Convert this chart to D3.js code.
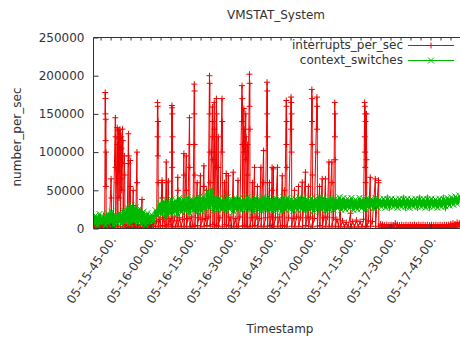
<!DOCTYPE html>
<html lang="en">
<head>
<meta charset="UTF-8">
<title>VMSTAT_System</title>
<style>
    body { margin: 0; background: #fff; overflow: hidden; }
    svg text { font-family: "DejaVu Sans", sans-serif; fill: #333; }
</style>
</head>
<body>
<div id="container"></div>
<script src="https://cdn.jsdelivr.net/npm/d3@7/dist/d3.min.js"></script>
<script>
// time is minutes after 15:00 on day 05
var interrupts = [
    [38.6,2000],[39.0,5000],[39.3,1000],[39.7,4500],[40.0,1500],[40.4,5000],[40.7,1200],[41.0,4000],[41.4,1000],[41.8,5000],[42.1,1000],[42.5,4500],[42.8,1500],
    [43.0,178000],[43.05,150000],[43.1,170000],[43.15,115000],[43.2,143000],[43.25,55000],[43.3,100000],[43.35,2000],
    [43.6,5000],[43.9,1500],[44.2,4500],[44.5,1000],
    [45.2,65000],[45.3,40000],[45.4,1500],[45.7,5000],[46.0,1000],
    [46.8,145000],[46.85,80000],[46.9,120000],[46.95,2000],
    [47.5,132000],[47.55,60000],[47.6,110000],[47.7,3000],
    [48.0,128000],[48.05,75000],[48.1,118000],[48.2,40000],
    [48.5,130000],[48.55,90000],[48.6,125000],[48.7,2000],
    [49.0,120000],[49.05,65000],[49.1,105000],[49.2,50000],
    [49.5,130000],[49.55,85000],[49.6,115000],[49.7,2000],
    [50.2,95000],[50.3,70000],[50.4,2500],[50.8,5000],[51.2,1000],
    [51.7,124000],[51.75,85000],[51.8,95000],[51.85,2000],
    [52.4,89000],[52.45,55000],[52.5,7000],[52.6,2000],[53.0,5000],
    [53.5,50000],[53.55,30000],[53.6,1500],[54.0,4500],[54.4,1000],
    [54.9,100000],[54.95,60000],[55.0,2000],[55.4,5000],[55.8,1000],[56.2,4500],
    [56.8,38000],[56.9,1500],
    [57.3,5000],[57.6,1500],[58.0,4500],[58.3,1000],[58.7,5000],[59.0,1500],[59.4,4000],[59.7,1000],[60.0,5000],[60.4,2000],[60.8,8000],[61.1,3000],[61.5,10000],[61.8,3000],
    [62.3,9000],[62.6,165000],[62.65,120000],[62.7,160000],[62.75,95000],[62.8,140000],[62.85,60000],[62.9,2000],
    [63.3,12000],[63.7,3000],
    [64.3,63000],[64.35,40000],[64.4,60000],[64.5,4000],
    [65.0,14000],[65.5,2000],
    [65.9,87000],[66.0,30000],[66.05,60000],[66.1,3000],
    [66.7,62000],[66.8,5000],[67.3,13000],[67.8,2000],
    [68.0,161000],[68.05,100000],[68.1,158000],[68.15,80000],[68.2,150000],[68.25,120000],[68.3,3000],
    [68.9,15000],[69.4,2000],[69.9,10000],
    [70.2,67000],[70.25,50000],[70.3,3000],
    [70.9,14000],[71.5,2000],[72.0,12000],
    [72.5,98000],[72.55,70000],[72.6,3000],
    [73.4,95000],[73.45,50000],[73.5,2000],[74.0,13000],
    [74.6,145000],[74.65,110000],[74.7,80000],[74.75,3000],
    [75.3,15000],[75.9,2000],
    [76.4,189000],[76.45,150000],[76.5,180000],[76.55,110000],[76.6,70000],[76.65,3000],
    [77.5,60000],[77.6,4000],
    [78.1,14000],[78.7,69000],[78.75,40000],[78.8,2000],[79.4,12000],
    [80.0,82000],[80.05,55000],[80.1,3000],
    [80.6,13000],[81.0,50000],[81.1,4000],[81.6,15000],
    [82.1,200000],[82.15,150000],[82.2,190000],[82.25,100000],[82.3,60000],[82.35,3000],
    [83.2,159000],[83.25,120000],[83.3,140000],[83.35,90000],[83.4,5000],
    [83.9,165000],[83.95,100000],[84.0,130000],[84.05,2000],
    [84.7,170000],[84.75,80000],[84.8,150000],[84.85,4000],
    [85.4,120000],[85.45,80000],[85.5,3000],[86.0,14000],
    [86.8,170000],[86.85,100000],[86.9,140000],[86.95,2000],
    [87.7,60000],[87.8,5000],[88.4,72000],[88.5,3000],[89.2,69000],[89.3,4000],
    [89.8,15000],[90.4,2000],
    [91.0,73700],[91.1,40000],[91.2,3000],[91.8,13000],[92.3,2000],
    [92.8,63000],[92.9,3000],[93.5,15000],
    [94.3,187000],[94.35,140000],[94.4,170000],[94.45,110000],[94.5,3000],
    [95.0,157000],[95.05,100000],[95.1,130000],[95.15,4000],
    [95.7,150000],[95.75,90000],[95.8,120000],[95.85,2000],
    [96.3,110000],[96.35,70000],[96.4,3000],
    [97.1,202000],[97.15,160000],[97.2,190000],[97.25,130000],[97.3,2000],
    [97.8,14000],[98.2,60000],[98.3,3000],[99.0,80000],[99.1,4000],
    [99.6,15000],[100.1,55000],[100.2,2000],
    [100.8,13000],[101.4,80000],[101.5,3000],
    [102.4,102000],[102.45,60000],[102.5,2000],
    [103.1,14000],[103.7,191500],[103.75,150000],[103.8,180000],[103.85,120000],[103.9,3000],
    [104.6,60000],[104.7,4000],
    [105.2,15000],[105.6,80000],[105.65,50000],[105.7,3000],
    [106.1,78000],[106.2,2000],[106.8,14000],
    [107.6,80000],[107.7,3000],[108.3,15000],[108.8,2000],
    [109.4,69000],[109.5,4000],[110.2,50000],[110.3,3000],
    [110.9,167500],[110.95,110000],[111.0,160000],[111.05,140000],[111.1,80000],[111.15,2000],
    [111.8,14000],
    [112.7,172000],[112.75,130000],[112.8,165000],[112.85,100000],[112.9,150000],[112.95,3000],
    [113.5,13000],[114.0,50000],[114.1,2000],[114.8,15000],
    [115.5,55000],[115.6,3000],
    [116.2,14000],[116.9,60600],[117.0,2000],
    [118.1,73700],[118.2,4000],[118.7,14000],
    [119.2,55000],[119.3,3000],[119.9,15000],
    [120.5,182000],[120.55,140000],[120.6,170000],[120.65,110000],[120.7,70000],[120.75,2000],
    [121.4,13000],
    [122.4,172000],[122.45,130000],[122.5,160000],[122.55,100000],[122.6,3000],
    [123.4,55000],[123.5,4000],[124.4,65000],[124.5,2000],[125.0,14000],
    [125.6,65000],[125.7,3000],[126.3,15000],
    [126.9,87000],[127.0,2000],
    [128.0,87000],[128.05,60000],[128.1,3000],[128.6,14000],
    [129.1,165000],[129.15,120000],[129.2,150000],[129.25,90000],[129.3,2000],
    [129.9,12000],[130.5,3000],[131.2,30000],[131.3,2000],
    [132.0,10000],[132.7,2000],[133.4,8000],[134.1,2000],
    [135.0,20000],[135.1,2000],
    [135.8,9000],[136.5,2000],[137.2,11000],[137.9,2000],[138.6,9000],[139.3,2000],[139.9,12000],
    [140.3,165000],[140.35,120000],[140.4,160000],[140.45,100000],[140.5,150000],[140.55,80000],[140.6,140000],[140.65,60000],[140.7,3000],
    [141.0,150000],[141.05,90000],[141.1,2000],[141.7,10000],
    [142.4,67000],[142.5,3000],[143.2,9000],
    [144.3,65000],[144.4,3000],
    [145.5,63000],[145.55,60000],[145.6,2000],[146.3,6000],
    [146.7,1000],[147.0,5000],[147.4,800],[147.8,4500],[148.2,1000],[148.6,5000],[149.0,800],[149.4,4500],
    [149.8,1000],[150.2,5000],[150.6,1200],[151.0,4500],[151.4,1000],[151.8,7000],[152.2,1500],[152.6,5000],
    [153.0,800],[153.4,4500],[153.8,1000],[154.2,5000],[154.6,800],[155.0,4500],[155.4,1000],[155.8,5000],
    [156.2,800],[156.6,4500],[157.0,1000],[157.4,5000],[157.8,800],[158.2,4500],[158.6,1000],[159.0,5000],
    [159.4,800],[159.8,4500],[160.2,1000],[160.6,5000],[161.0,800],[161.4,4500],[161.8,1000],[162.2,5000],
    [162.6,800],[163.0,4500],[163.4,1000],[163.8,5000],[164.2,800],[164.6,4500],[165.0,1000],[165.4,5000],
    [165.8,800],[166.2,4500],[166.6,1000],[167.0,5000],[167.4,800],[167.8,4500],[168.2,1000],[168.6,5000],
    [169.0,800],[169.4,4500],[169.8,1000],[170.2,5000],[170.6,800],[171.0,4500],[171.4,1000],[171.8,5000],
    [172.2,1500],[172.6,6000],[173.0,2000],[173.4,7000],[173.8,1500],[174.2,6000],[174.6,2000],[175.0,8000],
    [175.4,2000],[175.8,7000],[176.2,2500],[176.5,6000]
];

// context switches, one reading every 45 s from 15:38:36
var ctxStart = 38.6, ctxStep = 0.75;
var ctxValues = [
    5000,17000,3000,19000,6000,15000,4000,20000,
    6000,22000,4000,18000,7000,21000,5000,24000,
    8000,27000,6000,30000,9000,28000,7000,26000,
    5000,22000,4000,20000,6000,18000,8000,24000,
    16000,33000,18000,36000,15000,35000,19000,38000,
    20000,37000,18000,40000,21000,38000,22000,41000,
    20000,39000,23000,40000,21000,42000,22000,41000,
    24000,48000,26000,52000,23000,42000,25000,40000,
    24000,39000,23000,41000,25000,38000,22000,40000,
    24000,40000,23000,39000,25000,41000,24000,38000,
    22000,40000,25000,39000,23000,41000,24000,40000,
    25000,38000,23000,40000,24000,39000,22000,41000,
    24000,40000,25000,38000,23000,39000,24000,41000,
    25000,40000,23000,38000,24000,40000,22000,39000,
    25000,41000,24000,40000,23000,38000,25000,40000,
    24000,39000,26000,41000,24000,40000,25000,39000,
    26000,40000,24000,38000,25000,40000,26000,39000,
    25000,40000,27000,39000,26000,40000,27000,38000,
    28000,39000,27000,38000,29000,39000,28000,38000,
    27000,39000,28000,38000,29000,39000,27000,38000,
    28000,39000,29000,38000,28000,39000,27000,38000,
    29000,39000,28000,38000,27000,39000,28000,38000,
    29000,40000,30000,41000,31000,42000,32000,43000
];

var tickMinutes = [45, 60, 75, 90, 105, 120, 135, 150, 165];
var tickLabels = ["05-15-45-00.", "05-16-00-00.", "05-16-15-00.", "05-16-30-00.", "05-16-45-00.",
    "05-17-00-00.", "05-17-15-00.", "05-17-30-00.", "05-17-45-00."];
var yTicks = [0, 50000, 100000, 150000, 200000, 250000];

var svg = d3.select("#container").append("svg")
    .attr("width", 460)
    .attr("height", 338);

var x = d3.scaleLinear().domain([38.6, 176.25]).range([93.5, 460.5]);
var y = d3.scaleLinear().domain([0, 250000]).range([228.5, 37.5]);

svg.append("defs").append("clipPath").attr("id", "plot-clip")
    .append("rect").attr("x", 93.5).attr("y", 37.5).attr("width", 367).attr("height", 191);

var plus = "M-3,0H3M0,-3V3";
var cross = "M-3,-3L3,3M-3,3L3,-3";

var ctx = ctxValues.map(function (v, i) { return [ctxStart + i * ctxStep, v]; });

var line = d3.line()
    .x(function (d) { return x(d[0]); })
    .y(function (d) { return y(d[1]); });

var plot = svg.append("g").attr("clip-path", "url(#plot-clip)");

function drawSeries(data, color, marker, lineWidth) {
    var g = plot.append("g");
    g.append("path")
        .attr("d", line(data))
        .attr("fill", "none")
        .attr("stroke", color)
        .attr("stroke-width", lineWidth);
    g.selectAll("path.pt")
        .data(data)
        .enter()
        .append("path")
        .attr("class", "pt")
        .attr("transform", function (d) { return "translate(" + x(d[0]) + "," + y(d[1]) + ")"; })
        .attr("d", marker)
        .attr("stroke", color)
        .attr("stroke-width", 1);
}

drawSeries(interrupts, "#f00000", plus, 1);
drawSeries(ctx, "#00b800", cross, 3);

// axes, ticks point inward like gnuplot
var yAxis = svg.append("g")
    .attr("transform", "translate(93.5,0)")
    .call(d3.axisLeft(y).tickValues(yTicks).tickSize(-5).tickPadding(9).tickFormat(d3.format("d")));

var xAxis = svg.append("g")
    .attr("transform", "translate(0,228.5)")
    .call(d3.axisBottom(x).tickValues(tickMinutes).tickSize(-5).tickFormat(function (d, i) { return tickLabels[i]; }));

xAxis.selectAll("text")
    .attr("text-anchor", "end")
    .attr("transform", "translate(2,9) rotate(-56)")
    .attr("dy", "0.35em")
    .attr("y", 0);

var topTicks = d3.range(41.25, 176, 3.75);
svg.append("g")
    .attr("transform", "translate(0,37.5)")
    .call(d3.axisTop(x).tickValues(topTicks).tickSize(-3).tickFormat(""));

svg.selectAll(".domain").remove();
svg.selectAll(".tick line").attr("stroke", "#333");
svg.selectAll(".tick text").attr("font-size", 12).attr("fill", "#333");

// frame
svg.append("path")
    .attr("d", "M460.5,37.5H93.5V228.5H460.5")
    .attr("fill", "none")
    .attr("stroke", "#333")
    .attr("stroke-width", 1);

svg.append("text")
    .attr("x", 276).attr("y", 19)
    .attr("text-anchor", "middle")
    .attr("font-size", 12)
    .text("VMSTAT_System");

svg.append("text")
    .attr("transform", "translate(21,137) rotate(-90)")
    .attr("text-anchor", "middle")
    .attr("font-size", 12)
    .text("number_per_sec");

svg.append("text")
    .attr("x", 280).attr("y", 333)
    .attr("text-anchor", "middle")
    .attr("font-size", 12)
    .text("Timestamp");

// legend
var legend = svg.append("g");
var legendItems = [["interrupts_per_sec", "#f00000", plus], ["context_switches", "#00b800", cross]];
legendItems.forEach(function (item, i) {
    var ly = 45 + i * 15;
    legend.append("text")
        .attr("x", 403).attr("y", ly + 4)
        .attr("text-anchor", "end")
        .attr("font-size", 12)
        .text(item[0]);
    legend.append("line")
        .attr("x1", 408).attr("x2", 454)
        .attr("y1", ly + 0.5).attr("y2", ly + 0.5)
        .attr("stroke", item[1]);
    legend.append("path")
        .attr("transform", "translate(431," + (ly + 0.5) + ")")
        .attr("d", item[2])
        .attr("stroke", item[1]);
});
</script>
</body>
</html>
